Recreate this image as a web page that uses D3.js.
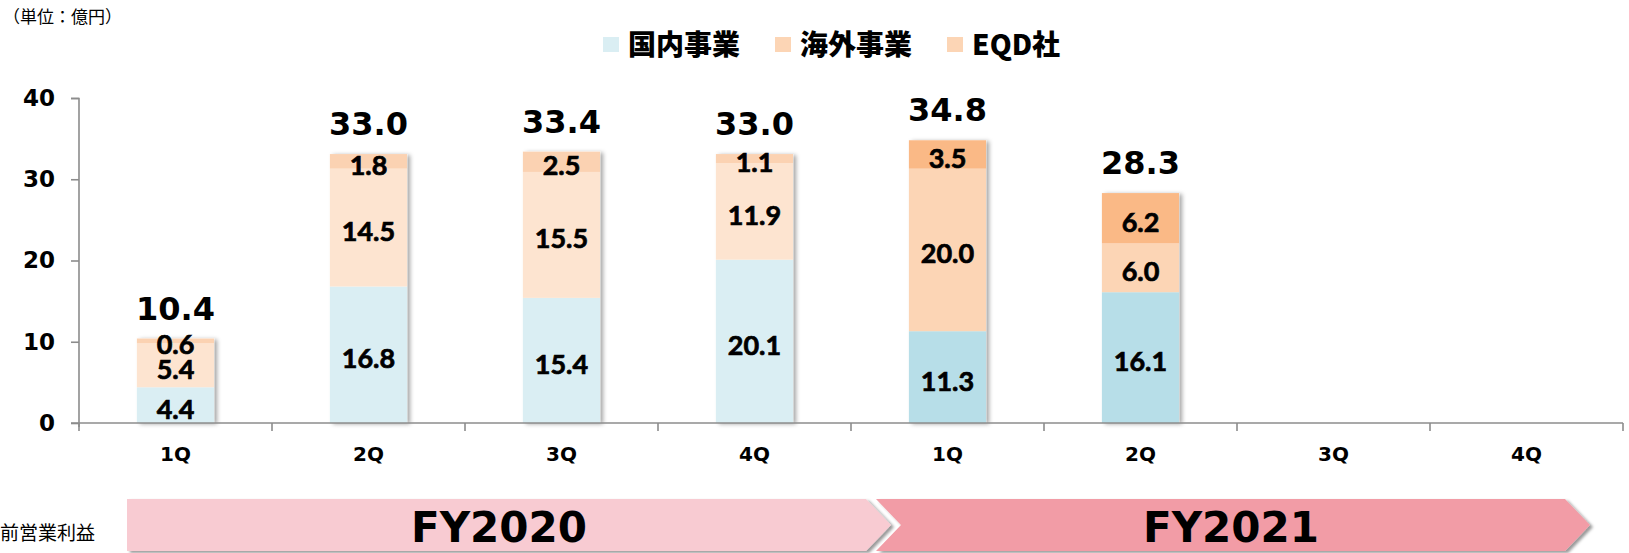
<!DOCTYPE html>
<html>
<head>
<meta charset="utf-8">
<script src="https://cdn.jsdelivr.net/npm/d3@7"></script>
<style>
  html, body { margin: 0; padding: 0; background: #fff; }
  svg { display: block; }
</style>
</head>
<body>
<svg id="chart" width="1629" height="553"></svg>
<script>
// ---- data ----
const categories = ["FY2020 1Q","FY2020 2Q","FY2020 3Q","FY2020 4Q","FY2021 1Q","FY2021 2Q","FY2021 3Q","FY2021 4Q"];
const quarterLabels = ["1Q","2Q","3Q","4Q","1Q","2Q","3Q","4Q"];
const domestic = [4.4, 16.8, 15.4, 20.1, 11.3, 16.1, null, null];
const overseas = [5.4, 14.5, 15.5, 11.9, 20.0, 6.0, null, null];
const eqd      = [0.6, 1.8, 2.5, 1.1, 3.5, 6.2, null, null];
const totals   = [10.4, 33.0, 33.4, 33.0, 34.8, 28.3, null, null];
const fiscalYear = ["FY2020","FY2020","FY2020","FY2020","FY2021","FY2021","FY2021","FY2021"];
const seriesNames = ["国内事業", "海外事業", "EQD社"];
const yTicks = [0, 10, 20, 30, 40];
const periodLabels = ["FY2020", "FY2021"];

// ---- styles ----
const colors = {
  FY2020: ["#DAEEF3", "#FDE4D0", "#FBD2B2"],
  FY2021: ["#B7DEE8", "#FCD5B5", "#FAB986"]
};
const legendColors = ["#DAEEF3", "#FCD5B5", "#FCD5B5"];
const axisColor = "#8C8C8C";
const numFont = "'DejaVu Sans', Verdana, sans-serif";
const labelFont = "Lato, 'Open Sans', sans-serif";
const cjkFont = "'Noto Sans CJK JP', 'Noto Sans', sans-serif";

const svg = d3.select("#chart");
const defs = svg.append("defs");
const f = defs.append("filter").attr("id", "shadow").attr("x", "-20%").attr("y", "-20%").attr("width", "150%").attr("height", "150%");
f.append("feDropShadow").attr("dx", 3).attr("dy", 1).attr("stdDeviation", 2.2).attr("flood-color", "#000").attr("flood-opacity", 0.35);
const f2 = defs.append("filter").attr("id", "bandshadow").attr("x", "-5%").attr("y", "-20%").attr("width", "110%").attr("height", "150%");
f2.append("feDropShadow").attr("dx", 3).attr("dy", 2).attr("stdDeviation", 1.8).attr("flood-color", "#000").attr("flood-opacity", 0.4);

const x = d3.scaleBand().domain(categories).range([79, 1623]).paddingInner(0.6).paddingOuter(0.3);
const xOuter = d3.scaleBand().domain(categories).range([79, 1623]).padding(0);
const y = d3.scaleLinear().domain([0, 40]).range([423, 98]);

// ---- stacked bars ----
const rows = categories.map((c, i) => ({cat: c, fy: fiscalYear[i], d: domestic[i], o: overseas[i], e: eqd[i], t: totals[i]}));
const stack = d3.stack().keys(["d", "o", "e"]).value((r, k) => r[k] == null ? 0 : r[k]);
const stacked = stack(rows);

// shadows underneath (one per bar)
svg.append("g").selectAll("rect").data(rows.filter(r => r.t != null)).join("rect")
  .attr("x", r => x(r.cat))
  .attr("width", x.bandwidth())
  .attr("y", r => y(r.d + r.o + r.e))
  .attr("height", r => y(0) - y(r.d + r.o + r.e))
  .attr("fill", "#fff")
  .attr("filter", "url(#shadow)");

const segG = svg.append("g");
stacked.forEach((layer, li) => {
  segG.append("g").selectAll("rect").data(layer.filter(p => p.data.t != null)).join("rect")
    .attr("x", p => x(p.data.cat))
    .attr("width", x.bandwidth())
    .attr("y", p => y(p[1]))
    .attr("height", p => y(p[0]) - y(p[1]))
    .attr("fill", p => colors[p.data.fy][li]);
});

// segment labels
stacked.forEach((layer, li) => {
  segG.append("g").selectAll("text").data(layer.filter(p => p.data.t != null)).join("text")
    .attr("x", p => x(p.data.cat) + x.bandwidth() / 2)
    .attr("y", p => (y(p[0]) + y(p[1])) / 2 + 3)
    .attr("text-anchor", "middle")
    .attr("dominant-baseline", "central")
    .attr("font-family", labelFont)
    .attr("font-weight", 700)
    .attr("font-size", 27)
    .attr("fill", "#000")
    .attr("stroke", "#000")
    .attr("stroke-width", 0.7)
    .text(p => (p[1] - p[0]).toFixed(1));
});

// totals
svg.append("g").selectAll("text").data(rows.filter(r => r.t != null)).join("text")
  .attr("x", r => x(r.cat) + x.bandwidth() / 2)
  .attr("y", r => y(r.d + r.o + r.e) - 19)
  .attr("text-anchor", "middle")
  .attr("font-family", numFont)
  .attr("font-weight", 700)
  .attr("font-size", 32)
  .attr("fill", "#000")
  .text(r => r.t.toFixed(1));

// ---- axes ----
const yAxis = d3.axisLeft(y).tickValues(yTicks).tickSize(8).tickPadding(16).tickFormat(d3.format("d"));
const yg = svg.append("g").attr("transform", "translate(79,0)").call(yAxis);
yg.select(".domain").attr("stroke", axisColor).attr("stroke-width", 1.6).attr("d", "M-8,98.5H0V427");
yg.selectAll(".tick line").attr("stroke", axisColor).attr("stroke-width", 1.6);
yg.selectAll(".tick text").attr("font-family", numFont).attr("font-weight", 700).attr("font-size", 23).attr("fill", "#000");

const xg = svg.append("g").attr("transform", "translate(0,423)");
xg.append("line").attr("x1", 71).attr("x2", 1623).attr("y1", 0).attr("y2", 0).attr("stroke", axisColor).attr("stroke-width", 1.6);
const bounds = categories.map(c => xOuter(c)).concat([xOuter.range()[1]]);
xg.selectAll("line.tk").data(bounds).join("line").attr("class", "tk")
  .attr("x1", d => d).attr("x2", d => d).attr("y1", 0).attr("y2", 8)
  .attr("stroke", axisColor).attr("stroke-width", 1.6);
xg.selectAll("text").data(categories).join("text")
  .attr("x", c => xOuter(c) + xOuter.bandwidth() / 2)
  .attr("y", 38)
  .attr("text-anchor", "middle")
  .attr("font-family", numFont)
  .attr("font-weight", 700)
  .attr("font-size", 20)
  .attr("fill", "#000")
  .text((c, i) => quarterLabels[i]);

// ---- unit label ----
svg.append("text").attr("x", 3).attr("y", 23)
  .attr("font-family", cjkFont).attr("font-size", 17).attr("fill", "#000")
  .text("（単位：億円）");

// ---- legend ----
const legendX = [603, 775, 947];
const lg = svg.append("g");
seriesNames.forEach((n, i) => {
  lg.append("rect").attr("x", legendX[i]).attr("y", 37).attr("width", 16).attr("height", 15).attr("fill", legendColors[i]);
  lg.append("text").attr("x", legendX[i] + 25).attr("y", 55)
    .attr("font-family", cjkFont).attr("font-weight", 900).attr("font-size", 28).attr("fill", "#000")
    .text(n);
});

// ---- bottom period bands ----
const band = svg.append("g");
const bTop = 499, bBot = 551, bMid = 525;
const fy20L = 127, fy20R = 866, fy21L = 876, fy21R = 1565, tip = 25;
band.append("path")
  .attr("d", `M${fy20L},${bTop}H${fy20R}L${fy20R + tip},${bMid}L${fy20R},${bBot}H${fy20L}Z`)
  .attr("fill", "#F8CBD2").attr("filter", "url(#bandshadow)");
band.append("path")
  .attr("d", `M${fy21L},${bTop}H${fy21R}L${fy21R + tip},${bMid}L${fy21R},${bBot}H${fy21L}L${fy21L + tip},${bMid}Z`)
  .attr("fill", "#F29CA6").attr("filter", "url(#bandshadow)");
const periodX = [499, 1231];
periodLabels.forEach((p, i) => {
  band.append("text").attr("x", periodX[i]).attr("y", 542)
    .attr("text-anchor", "middle")
    .attr("font-family", numFont).attr("font-weight", 700).attr("font-size", 42)
    .attr("fill", "#000")
    .text(p);
});
svg.append("text").attr("x", 0).attr("y", 540)
  .attr("font-family", cjkFont).attr("font-size", 19).attr("fill", "#000")
  .text("前営業利益");
</script>
</body>
</html>
